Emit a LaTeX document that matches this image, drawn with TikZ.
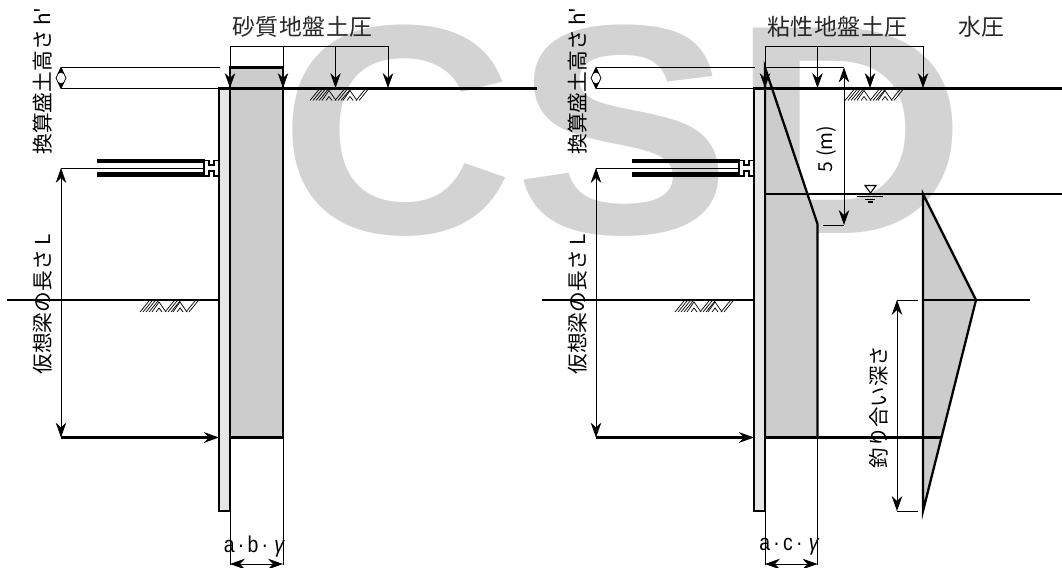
\documentclass[tikz,border=0pt]{standalone}
\usepackage{fontspec}
\usetikzlibrary{arrows.meta}
\setmainfont{Liberation Sans}
\newfontfamily\jpfont[LetterSpace=3]{Noto Sans CJK JP}
\newfontfamily\jpplain{Noto Sans CJK JP}
\definecolor{wmgray}{HTML}{D3D3D3}
\definecolor{loadgray}{HTML}{CCCCCC}
\definecolor{wallgray}{HTML}{E6E6E6}
\tikzset{
  heavy/.style={line width=1.3pt},
  dimln/.style={line width=.45pt,>={Stealth[length=8.5pt,width=6pt,inset=2.8pt]}},
  hatchln/.style={line width=.4pt},
  toplabel/.style={font=\jpfont\fontsize{13}{15}\selectfont,text=black!85,inner sep=0pt},
  sidelabel/.style={font=\jpplain\fontsize{11.8}{14}\selectfont,rotate=90,anchor=west,inner sep=0pt},
  widthlabel/.style={font=\fontsize{13}{15}\selectfont,xscale=.85,inner sep=0pt},
}
% ground hatching, #1 = left end on the line
\newcommand{\groundmark}[1]{
  \begin{scope}[shift={#1},hatchln]
    \foreach \hx in {0,3,6,9,25,28,31,46,49} \draw (\hx,12) -- (\hx+9,1);
    \draw (12,12) -- (19,2) -- (26,12) (16,12) -- (19,8) -- (22,12);
    \draw (33,12) -- (40,2) -- (47,12) (37,12) -- (40,8) -- (43,12);
  \end{scope}
}
\begin{document}
\begin{tikzpicture}[x=.02cm,y=-.02cm]
  \useasboundingbox (0,0) rectangle (1062,568);
  % watermark
  \node[anchor=base west,inner sep=0pt,text=wmgray,xscale=1.09,font=\bfseries\fontsize{170}{172}\selectfont] (mark) at (279,233.5) {CSD};

  % load areas
  \filldraw[heavy,fill=loadgray] (230,437.5) -- (230,67.5) -- (283,67.5) -- (283,437.5) -- cycle;
  \filldraw[heavy,fill=loadgray] (765,437.5) -- (765,67.5) -- (817.5,224) -- (817.5,437.5) -- cycle;
  \filldraw[heavy,fill=loadgray] (923,194) -- (976,300) -- (923,511) -- cycle;

  % wall, strut and dimensions, same on both sides
  \foreach \dx in {0,535} {
    \begin{scope}[shift={(\dx,0)}]
      \filldraw[heavy,fill=wallgray] (219,88.5) rectangle (230,511);
      \draw[heavy] (7,300) -- (219,300);
      \groundmark{(140,300)}
      \groundmark{(310,88.5)}
      % strut
      \draw[line width=2.6pt] (97,161) -- (205,161) (97,174.5) -- (205,174.5);
      \filldraw[line width=.7pt,fill=white] (204,160.5) -- (209,160.5) -- (209,165) -- (214,165) -- (214,160.5) -- (219,160.5) -- (219,176) -- (214,176) -- (214,171) -- (209,171) -- (209,176) -- (204,176) -- cycle;
      % h' dimension
      \draw[dimln] (61,67.5) -- (220,67.5) (61,88.5) -- (219,88.5);
      \draw[dimln] (61,67.5) -- (66,78) -- (61,88.5) -- (56,78) -- cycle;
      \fill (61,67.5) -- (64,74) -- (61,72.5) -- (58,74) -- cycle;
      \fill (61,88.5) -- (64,82) -- (61,83.5) -- (58,82) -- cycle;
      \node[sidelabel] (hlabel\dx) at (43,155) {換算盛土高さ h'};
      % L dimension
      \draw[dimln] (61,168) -- (204,168);
      \draw[dimln,<->] (61,168) -- (61,437.5);
      \draw[heavy,dimln,line width=1.4pt,->] (61,437.5) -- (219,437.5);
      \node[sidelabel] (Llabel\dx) at (43,375) {仮想梁の長さ L};
    \end{scope}
  }

  % left side
  \draw[heavy] (219,88.5) -- (537,88.5);
  \draw[dimln] (230,46) -- (388,46);
  \foreach \ax in {230,283,335.5,388} \draw[dimln,->] (\ax,46) -- (\ax,88);
  \node[toplabel] (sandlabel) at (302.5,27) {砂質地盤土圧};
  \draw[dimln] (230,511) -- (230,565) (283,437.5) -- (283,565);
  \draw[dimln,<->] (230,564) -- (283,564);
  \node[widthlabel] (ablabel) at (254,547) {a\,·\,b\,·\,\,{\itshape γ}};

  % right side
  \draw[heavy] (754,88.5) -- (1062,88.5);
  \draw[heavy] (765,194) -- (1062,194);
  \draw[heavy] (923,300) -- (1030,300);
  \draw[heavy] (765,437.5) -- (941,437.5);
  \draw[dimln] (765,46) -- (923,46);
  \foreach \ax in {765,817.5,870,923} \draw[dimln,->] (\ax,46) -- (\ax,88);
  \node[toplabel] (claylabel) at (837.5,27) {粘性地盤土圧};
  \node[toplabel] (waterlabel) at (981.5,27) {水圧};
  % 5 (m)
  \draw[dimln] (765,67.5) -- (844,67.5) (823,225) -- (844,225);
  \draw[dimln,<->] (844,67.5) -- (844,225);
  \node[font=\jpplain\fontsize{11}{13}\selectfont,rotate=90,inner sep=0pt] (fivelabel) at (826,149) {5 (m)};
  % water level
  \draw[line width=.6pt,fill=white] (865,185.5) -- (876,185.5) -- (870.5,193) -- cycle;
  \draw[line width=.9pt] (857,196.5) -- (883,196.5);
  \draw[line width=.7pt] (865,199.5) -- (875,199.5) (868,202) -- (873,202);
  % balance depth
  \draw[dimln] (897,300) -- (918,300) (897,511) -- (918,511);
  \draw[dimln,<->] (897,300) -- (897,511);
  \node[font=\jpplain\fontsize{11.6}{13}\selectfont,rotate=90,inner sep=0pt] (depthlabel) at (879,407) {釣り合い深さ};
  % width
  \draw[dimln] (765,511) -- (765,565) (817.5,437.5) -- (817.5,565);
  \draw[dimln,<->] (765,564) -- (817.5,564);
  \node[widthlabel] (aclabel) at (789,547) {a\,·\,c\,·\,\,{\itshape γ}};
\end{tikzpicture}
\end{document}
